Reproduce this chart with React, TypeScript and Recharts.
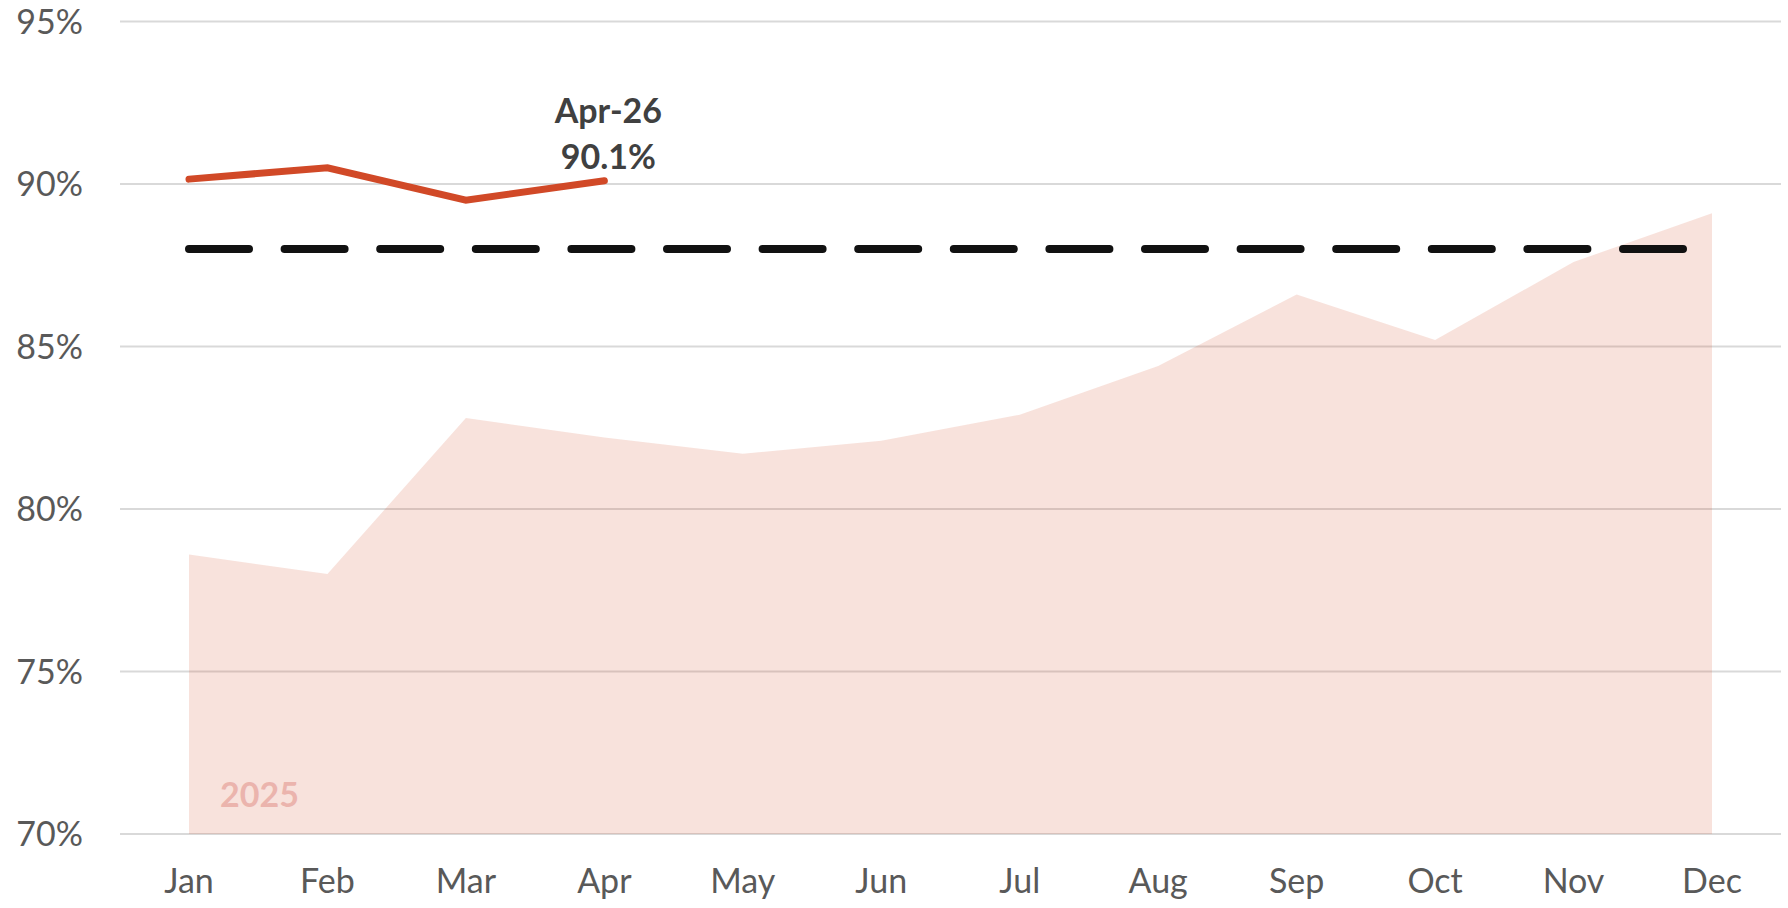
import {
  ComposedChart, Area, Line, XAxis, YAxis, CartesianGrid, ReferenceDot,
} from 'recharts';

const months = ['Jan', 'Feb', 'Mar', 'Apr', 'May', 'Jun', 'Jul', 'Aug', 'Sep', 'Oct', 'Nov', 'Dec'];
const rate2025 = [78.6, 78.0, 82.8, 82.2, 81.7, 82.1, 82.9, 84.4, 86.6, 85.2, 87.6, 89.1];
const rate2026 = [90.15, 90.5, 89.5, 90.1, null, null, null, null, null, null, null, null];
const targetRate = [88, 88, 88, 88, 88, 88, 88, 88, 88, 88, 88, 88];
const yTicks = [70, 75, 80, 85, 90, 95];
const latestMonth = 'Apr';
const latestLabel = 'Apr-26';
const latestValue = 90.1;

const data = months.map((m, i) => ({
  month: m,
  y2025: rate2025[i],
  y2026: rate2026[i],
  target: targetRate[i],
}));

const FONT = 'Lato, "Noto Sans", sans-serif';
const RED = '#d14927';

function LatestLabel({ viewBox }: any) {
  const cx = viewBox.x + viewBox.width / 2;
  const cy = viewBox.y + viewBox.height / 2;
  return (
    <g fontFamily={FONT} fontWeight={700} fontSize={34} fill="#404040" textAnchor="middle">
      <text x={cx + 4} y={cy - 58}>{latestLabel}</text>
      <text x={cx + 4} y={cy - 12}>{latestValue.toFixed(1)}%</text>
    </g>
  );
}

function YearLabel({ viewBox }: any) {
  const cx = viewBox.x + viewBox.width / 2;
  const cy = viewBox.y + viewBox.height / 2;
  return (
    <text x={cx + 31} y={cy - 27} fontFamily={FONT} fontWeight={700} fontSize={34} fill="#ebb4ad">
      2025
    </text>
  );
}

export default function App() {
  return (
    <div style={{ position: 'fixed', left: 0, top: 0, background: '#fff' }}>
      <ComposedChart
        width={1788}
        height={908}
        data={data}
        margin={{ top: 21.5, right: 7, bottom: 0, left: 0 }}
      >
        <CartesianGrid vertical={false} stroke="#d9d9d9" strokeWidth={2} />
        <XAxis
          dataKey="month"
          scale="point"
          padding={{ left: 69, right: 69 }}
          height={74}
          axisLine={false}
          tickLine={false}
          tickSize={0}
          tickMargin={35}
          interval={0}
          tick={{ fontFamily: FONT, fontSize: 34, fill: '#595959' }}
        />
        <YAxis
          domain={[70, 95]}
          ticks={yTicks}
          width={120}
          axisLine={false}
          tickLine={false}
          tickSize={0}
          tickMargin={37}
          tickFormatter={(v: number) => `${v}%`}
          tick={{ fontFamily: FONT, fontSize: 34, fill: '#595959' }}
        />
        <Area
          type="linear"
          dataKey="y2025"
          stroke="none"
          fill={RED}
          fillOpacity={0.16}
          isAnimationActive={false}
        />
        <Line
          type="linear"
          dataKey="target"
          stroke="#111111"
          strokeWidth={8}
          strokeDasharray="60 35.6"
          strokeLinecap="round"
          dot={false}
          activeDot={false}
          isAnimationActive={false}
        />
        <Line
          type="linear"
          dataKey="y2026"
          stroke={RED}
          strokeWidth={7}
          strokeLinecap="round"
          dot={false}
          activeDot={false}
          isAnimationActive={false}
        />
        <ReferenceDot
          x={latestMonth}
          y={latestValue}
          r={1}
          fill="none"
          stroke="none"
          ifOverflow="visible"
          label={{ content: (p: any) => <LatestLabel {...p} /> }}
        />
        <ReferenceDot
          x="Jan"
          y={70}
          r={1}
          fill="none"
          stroke="none"
          ifOverflow="visible"
          label={{ content: (p: any) => <YearLabel {...p} /> }}
        />
      </ComposedChart>
    </div>
  );
}
